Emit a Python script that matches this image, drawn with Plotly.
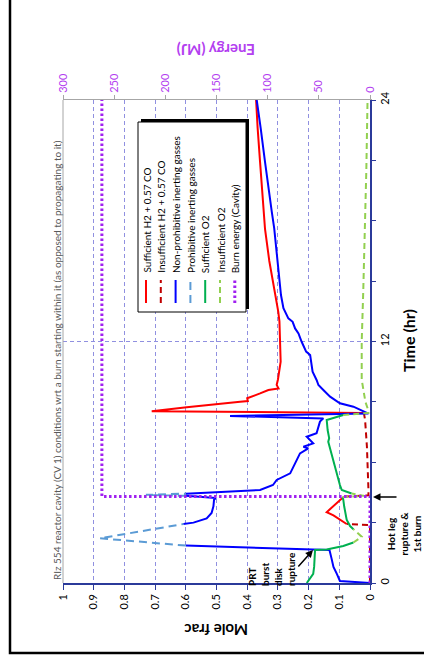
import plotly.graph_objects as go

# ---------------- data (time in hr, mole fraction) ----------------
H2_SUFF_T = [2.93, 3.2, 3.36, 3.52, 3.68, 3.95, 4.2, 4.3, None,
             8.45, 8.53, 8.73, 8.9, 9.01, 9.04, 9.18, 9.42, 9.59, 9.67, 9.84,
             10.1, 11.0, 12.0, 13.0, 13.5, 14.3, 16.0, 17.6, 19.3, 20.9, 22.6, 24.0]
H2_SUFF_M = [0.076, 0.103, 0.119, 0.141, 0.13, 0.108, 0.092, 0.08, None,
             0.02, 0.711, 0.597, 0.5, 0.423, 0.398, 0.40, 0.358, 0.331, 0.298, 0.304,
             0.30, 0.291, 0.293, 0.295, 0.299, 0.309, 0.328, 0.342, 0.351, 0.358, 0.366, 0.371]

H2_INSUF_T = [0, 2.88, 2.93, None, 4.3, 4.36, 4.62, 6.77, 8.1, 8.45]
H2_INSUF_M = [0, 0, 0.076, None, 0.08, 0.005, 0.005, 0.01, 0.016, 0.02]

NONPROH_T = [0, 0.1, 0.45, 0.8, 1.2, 1.64, 1.86, None,
             2.93, 3.0, 3.21, 3.48, 3.81, 4.14, 4.22, 4.33, None,
             4.44, 4.62, 4.87, 5.12, 5.45, 6.11, 6.44, 6.69, 6.77, 6.94, 7.27, 7.44,
             7.77, 8.02, 8.18, 8.3, 8.42, 8.76, 8.93, 9.26, 9.59, 9.84, 10.09, 10.5,
             11.33, 11.5, 12.0, 12.4, 12.65, 12.98, 13.15, 13.31, 13.65, 14.31, 15.97,
             17.62, 18.45, 19.28, 20.93, 22.59, 24.0]
NONPROH_M = [0, 0.098, 0.108, 0.119, 0.125, 0.132, 0.6, None,
             0.608, 0.575, 0.532, 0.516, 0.51, 0.508, 0.502, 0.6, None,
             0.6, 0.358, 0.316, 0.304, 0.26, 0.239, 0.228, 0.201, 0.217, 0.185, 0.206, 0.174,
             0.168, 0.163, 0.152, 0.456, 0.005, 0.054, 0.098, 0.13, 0.152, 0.168, 0.174, 0.187,
             0.195, 0.208, 0.223, 0.233, 0.244, 0.252, 0.266, 0.271, 0.282, 0.29, 0.301,
             0.312, 0.32, 0.328, 0.342, 0.356, 0.369]

PROH_T = [1.86, 2.22, 2.93, None, 4.33, 4.38, 4.44]
PROH_M = [0.6, 0.88, 0.608, None, 0.6, 0.73, 0.6]

O2_SUFF_T = [0.0, 0.45, 0.8, 1.64, 1.67, 1.84, 2.01, None,
             2.67, 2.83, 3.15, 3.48, 3.8, 4.14, 4.27, None,
             4.45, 4.62, 4.87, 5.45, 6.44, 6.77, 7.02, 7.2, 7.6, 8.1, 8.35]
O2_SUFF_M = [0.206, 0.185, 0.182, 0.179, 0.141, 0.087, 0.054, None,
             0.054, 0.065, 0.076, 0.081, 0.084, 0.087, 0.09, None,
             0.06, 0.092, 0.098, 0.108, 0.125, 0.13, 0.136, 0.133, 0.138, 0.141, 0.087]

O2_INSUF_T = [2.01, 2.3, 2.67, None, 4.27, 4.33, 4.45, None,
              8.35, 8.45, 8.6, 9.0, 10.1, 12.0, 14.5, 17.6, 20.5, 24.0]
O2_INSUF_M = [0.054, 0.027, 0.054, None, 0.09, 0.02, 0.06, None,
              0.087, 0.005, 0.006, 0.015, 0.027, 0.027, 0.022, 0.016, 0.012, 0.008]

BURN_T = [0, 4.3, 4.3, 24]
BURN_E = [0, 0, 262, 262]

MOLE_TICKS = [0, 0.1, 0.2, 0.3, 0.4, 0.5, 0.6, 0.7, 0.8, 0.9, 1]
MOLE_LABELS = ["0", "0.1", "0.2", "0.3", "0.4", "0.5", "0.6", "0.7", "0.8", "0.9", "1"]
TIME_TICKS = [0, 12, 24]
ENERGY_TICKS = [0, 50, 100, 150, 200, 250, 300]

LEGEND_NAMES = ["Sufficient H2 + 0.57 CO", "Insufficient H2 + 0.57 CO",
                "Non-prohibitive inerting gasses", "Prohibitive inerting gasses",
                "Sufficient O2", "Insufficient O2", "Burn energy (Cavity)"]

TITLE = ("RIz 554 reactor cavity (CV 1) conditions wrt a burn starting within it "
         "(as opposed to propagating to it)")

# ---------------- styles ----------------
FONT = "Lato, 'Open Sans', sans-serif"
C_RED, C_DRED, C_BLUE, C_LBLUE = "#FF0000", "#C00000", "#0000FF", "#5B9BD5"
C_GREEN, C_LGREEN, C_PURPLE = "#00B050", "#92D050", "#A020F0"
AXIS_BLUE = "#2B3A9A"
GRID = "#9090E0"
TICK_PURPLE = "#B340F0"
DOT = "2.5px,2.5px"

styles = [
    (C_RED, "solid", 2),
    (C_DRED, "6px,4px", 2),
    (C_BLUE, "solid", 2),
    (C_LBLUE, "8px,5px", 2),
    (C_GREEN, "solid", 2),
    (C_LGREEN, "6px,4px", 2),
    (C_PURPLE, DOT, 3),
]

series = [(H2_SUFF_T, H2_SUFF_M), (H2_INSUF_T, H2_INSUF_M), (NONPROH_T, NONPROH_M),
          (PROH_T, PROH_M), (O2_SUFF_T, O2_SUFF_M), (O2_INSUF_T, O2_INSUF_M)]

fig = go.Figure()
for (t, m), (c, d, w), name in zip(series, styles[:6], LEGEND_NAMES[:6]):
    fig.add_trace(go.Scatter(x=m, y=t, mode="lines", name=name, cliponaxis=False,
                             line=dict(color=c, dash=d, width=w), connectgaps=False))
c, d, w = styles[6]
fig.add_trace(go.Scatter(x=BURN_E, y=BURN_T, xaxis="x2", mode="lines", name=LEGEND_NAMES[6],
                         cliponaxis=False, line=dict(color=c, dash=d, width=w)))

W, H = 424, 663
L, R, T, B = 63, 54, 100, 80
PW, PH = W - L - R, H - T - B


def px(xp):
    return (xp - L) / PW


def py(yp):
    return (H - B - yp) / PH


fig.update_layout(
    width=W, height=H, margin=dict(l=L, r=R, t=T, b=B),
    paper_bgcolor="white", plot_bgcolor="white", showlegend=False,
    font=dict(family=FONT, size=11, color="black"),
    xaxis=dict(range=[1, 0], tickvals=MOLE_TICKS, ticktext=MOLE_LABELS, tickangle=-90,
               ticks="outside", ticklen=5, tickcolor=AXIS_BLUE, showline=True,
               linecolor=AXIS_BLUE, linewidth=1.5, showgrid=True, gridcolor=GRID,
               griddash="4px,3px", gridwidth=1, zeroline=False,
               tickfont=dict(size=11, color="black"), layer="below traces"),
    xaxis2=dict(range=[300, 0], overlaying="x", side="top", anchor="y",
                tickvals=ENERGY_TICKS, tickangle=-90, ticks="outside", ticklen=4,
                tickcolor="#A6A6A6", showline=True, linecolor="#A6A6A6", linewidth=1,
                showgrid=False, zeroline=False, tickfont=dict(size=11, color=TICK_PURPLE)),
    yaxis=dict(range=[0, 24], side="right", tickvals=TIME_TICKS, tickangle=-90,
               ticks="outside", ticklen=4, tickcolor=AXIS_BLUE, showline=True,
               linecolor=AXIS_BLUE, linewidth=1.5, showgrid=True, gridcolor=GRID,
               griddash="4px,3px", zeroline=False, tickfont=dict(size=11, color="black"),
               minor=dict(dtick=3, ticks="outside", ticklen=4, tickcolor=AXIS_BLUE,
                          showgrid=False),
               layer="below traces"),
)

shapes = []
# outer border (left and bottom visible)
shapes.append(dict(type="rect", xref="paper", yref="paper", x0=px(10), x1=px(W + 20),
                   y0=py(653), y1=py(-20), line=dict(color="black", width=2.5),
                   fillcolor="rgba(0,0,0,0)", layer="below"))
# left plot edge
shapes.append(dict(type="line", xref="paper", yref="paper", x0=0, x1=0, y0=0, y1=1,
                   line=dict(color="#A6A6A6", width=1)))
# legend box with shadow
lx0, lx1, ly0, ly1 = 138, 246, 122, 312
shapes.append(dict(type="rect", xref="paper", yref="paper", x0=px(lx0 + 3), x1=px(lx1 + 3),
                   y0=py(ly1 - 3), y1=py(ly0 - 3), line=dict(width=0), fillcolor="black"))
shapes.append(dict(type="rect", xref="paper", yref="paper", x0=px(lx0), x1=px(lx1),
                   y0=py(ly1), y1=py(ly0), line=dict(color="black", width=1),
                   fillcolor="white"))

annotations = []
for i, (name, (c, d, w)) in enumerate(zip(LEGEND_NAMES, styles)):
    xc = 146 + i * 14.8
    shapes.append(dict(type="line", xref="paper", yref="paper", x0=px(xc), x1=px(xc),
                       y0=py(303), y1=py(280),
                       line=dict(color=c, width=w, dash=d)))
    annotations.append(dict(text=name, xref="paper", yref="paper", x=px(xc), y=py(275),
                            xanchor="center", yanchor="bottom", textangle=-90,
                            showarrow=False, font=dict(size=10, color="black")))

# axis titles
annotations.append(dict(text="<b>Mole frac</b>", xref="paper", yref="paper", x=px(216),
                        y=py(630), xanchor="center", yanchor="middle", textangle=180,
                        showarrow=False, font=dict(size=15, color="black")))
annotations.append(dict(text="<b>Time (hr)</b>", xref="paper", yref="paper", x=px(408),
                        y=py(341), xanchor="center", yanchor="middle", textangle=-90,
                        showarrow=False, font=dict(size=16, color="black")))
annotations.append(dict(text="<b>Energy (MJ)</b>", xref="paper", yref="paper", x=px(216),
                        y=py(50), xanchor="center", yanchor="middle", textangle=180,
                        showarrow=False, font=dict(size=15, color=TICK_PURPLE)))
annotations.append(dict(text=TITLE, xref="paper", yref="paper", x=px(57), y=py(582),
                        xanchor="center", yanchor="bottom", textangle=-90, showarrow=False,
                        font=dict(size=10, color="#595959")))
# event notes
annotations.append(dict(text="<b>PRT<br>burst<br>disk<br>rupture</b>", xref="paper",
                        yref="paper", x=px(271), y=py(588), xanchor="center",
                        yanchor="bottom", textangle=-90, align="left", showarrow=False,
                        font=dict(size=10, color="black")))
annotations.append(dict(text="", xref="paper", yref="paper", x=px(313), y=py(550),
                        ax=-16, ay=18, showarrow=True, arrowhead=2, arrowsize=1,
                        arrowwidth=1.5, arrowcolor="black"))
annotations.append(dict(text="<b>Hot leg<br>rupture &<br>1st burn</b>", xref="paper",
                        yref="paper", x=px(403.5), y=py(534), xanchor="center",
                        yanchor="middle", textangle=-90, align="center", showarrow=False,
                        font=dict(size=10, color="black")))
annotations.append(dict(text="", xref="paper", yref="paper", x=px(373), y=py(497),
                        ax=25, ay=0, showarrow=True, arrowhead=2, arrowsize=1,
                        arrowwidth=1.5, arrowcolor="black"))

fig.update_layout(shapes=shapes, annotations=annotations)
fig.write_html("out.html")
